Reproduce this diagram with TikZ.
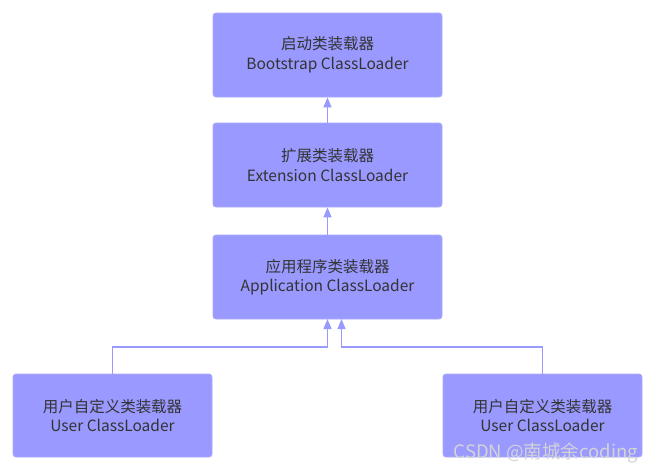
\documentclass[tikz,border=0pt]{standalone}
\usepackage{fontspec}
\setmainfont{Noto Sans CJK SC}
\usetikzlibrary{arrows.meta}
\definecolor{boxfill}{HTML}{9999FF}
\definecolor{boxline}{HTML}{AAAAFF}
\definecolor{txt}{HTML}{333333}
\definecolor{wm}{HTML}{D4D4D4}
\begin{document}
\begin{tikzpicture}[x=1pt,y=-1pt,
  cl/.style={draw=boxline,fill=boxfill,rounded corners=3pt,line width=0.8pt,
    align=center,text=txt,font=\fontsize{15.5}{19.5}\selectfont,inner sep=0pt},
  big/.style={cl,minimum width=229pt,minimum height=84pt},
  small/.style={cl,minimum width=199pt,minimum height=83pt},
  conn/.style={draw=boxfill,line width=1.3pt,-{Triangle[length=10pt,width=8pt]}}]
\useasboundingbox (0,0) rectangle (654,474);
\node[big] (boot) at (327.5,55) {启动类装载器\\Bootstrap ClassLoader};
\node[big] (ext) at (327.5,165) {扩展类装载器\\Extension ClassLoader};
\node[big] (app) at (327.5,277) {应用程序类装载器\\Application ClassLoader};
\node[small] (u1) at (112.5,415.5) {用户自定义类装载器\\User ClassLoader};
\node[small] (u2) at (542.5,415.5) {用户自定义类装载器\\User ClassLoader};
\draw[conn] (ext.north) -- (boot.south);
\draw[conn] (app.north) -- (ext.south);
\draw[conn] (u1.north) |- (327.5,347) -- (327.5,319);
\draw[conn] (u2.north) |- (341.5,347) -- (341.5,319);
\node[text=wm,font=\fontsize{18.5}{18.5}\selectfont,anchor=east,inner sep=0pt] (wmk) at (638,453) {CSDN @南城余coding};
\end{tikzpicture}
\end{document}
